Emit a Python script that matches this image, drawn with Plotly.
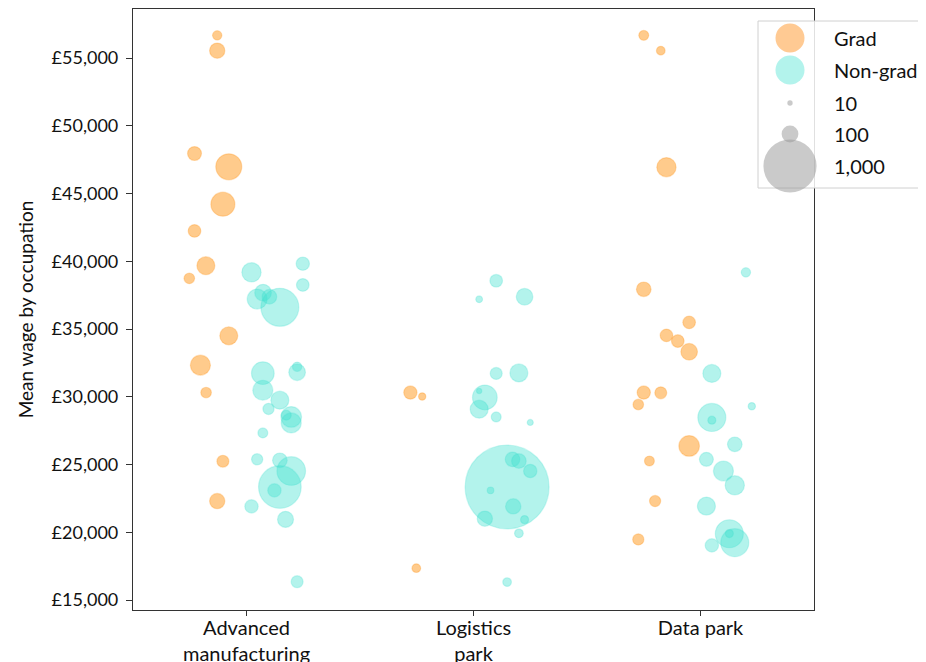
import plotly.graph_objects as go

# ---------------- data ----------------
categories = ["Advanced<br>manufacturing", "Logistics<br>park", "Data park"]

# Advanced manufacturing
am_grad_wage = [56670, 55540, 47950, 46970, 44210, 42240, 39670, 38740, 34500, 32330, 30310, 25240, 22300]
am_grad_n = [31, 83, 69, 240, 204, 57, 115, 40, 115, 142, 40, 51, 83]
am_grad_jit = [-0.129, -0.129, -0.229, -0.078, -0.104, -0.229, -0.179, -0.252, -0.078, -0.203, -0.178, -0.104, -0.129]

am_ng_wage = [39180, 39820, 38250, 37210, 37680, 37380, 36600, 31740, 31810, 32210, 30480, 29750, 29100,
              28510, 28070, 28640, 27330, 25380, 25310, 24520, 23340, 23090, 21910, 20950, 16350]
am_ng_n = [132, 63, 57, 142, 98, 76, 512, 182, 98, 31, 142, 115, 45,
           151, 142, 35, 35, 45, 76, 291, 645, 63, 63, 91, 51]
am_ng_jit = [0.022, 0.248, 0.248, 0.047, 0.073, 0.101, 0.147, 0.072, 0.223, 0.223, 0.072, 0.147, 0.097,
             0.197, 0.197, 0.175, 0.072, 0.047, 0.147, 0.197, 0.147, 0.123, 0.022, 0.172, 0.223]

# Logistics park
lp_grad_wage = [30310, 30020, 17350]
lp_grad_n = [63, 19, 27]
lp_grad_jit = [-0.278, -0.226, -0.252]

lp_ng_wage = [38560, 37190, 37380, 31720, 31760, 29950, 30430, 29080, 28510, 28100,
              23340, 25380, 25260, 24520, 23090, 21910, 21000, 20930, 19920, 16320]
lp_ng_n = [57, 16, 98, 51, 115, 216, 10, 115, 35, 13,
           2500, 76, 76, 63, 16, 83, 83, 23, 27, 27]
lp_ng_jit = [0.100, 0.025, 0.225, 0.100, 0.200, 0.050, 0.025, 0.025, 0.100, 0.250,
             0.148, 0.172, 0.200, 0.250, 0.075, 0.175, 0.050, 0.225, 0.200, 0.148]

# Data park
dp_grad_wage = [56670, 55540, 46940, 37930, 35490, 34530, 34110, 33320, 30310, 30290, 29430, 26370, 25260, 22300, 19470]
dp_grad_n = [35, 27, 132, 76, 57, 57, 57, 98, 63, 51, 40, 151, 35, 45, 45]
dp_grad_jit = [-0.250, -0.175, -0.150, -0.250, -0.050, -0.150, -0.100, -0.050, -0.250, -0.175, -0.274, -0.050, -0.225, -0.200, -0.274]

dp_ng_wage = [39180, 31720, 29300, 28470, 28270, 26490, 25380, 24520, 23460, 21930, 19890, 19230, 19900, 19030]
dp_ng_n = [31, 115, 19, 278, 23, 76, 69, 142, 132, 115, 278, 278, 23, 63]
dp_ng_jit = [0.200, 0.050, 0.226, 0.050, 0.050, 0.151, 0.026, 0.101, 0.151, 0.026, 0.127, 0.151, 0.127, 0.050]

y_ticks = [15000, 20000, 25000, 30000, 35000, 40000, 45000, 50000, 55000]
legend_sizes = [10, 100, 1000]
legend_size_labels = ["10", "100", "1,000"]
series_names = ["Grad", "Non-grad"]

# ---------------- styling ----------------
FONT = "Lato, 'Open Sans', sans-serif"
GRAD_FILL = "rgba(255,140,0,0.45)"
GRAD_LINE = "rgba(255,140,0,0.25)"
NG_FILL = "rgba(64,224,208,0.40)"
NG_LINE = "rgba(64,224,208,0.25)"
GREY_FILL = "rgba(150,150,150,0.5)"

PX_PER_SQRT = 1.68           # diameter in px = PX_PER_SQRT * sqrt(n)
SIZEREF = 2.0 / PX_PER_SQRT ** 2

OFF = 8                      # browser body margin
W, H = 926 - OFF, 662 - OFF
ML, MT = 133 - OFF, 9 - OFF
PR, PB = 814 - OFF, 610 - OFF   # plot right / bottom in figure px
MR, MB = W - PR, H - PB
PW, PH = W - ML - MR, H - MT - MB

fig = go.Figure()

groups = [
    (0, am_grad_wage, am_grad_n, am_grad_jit, am_ng_wage, am_ng_n, am_ng_jit),
    (1, lp_grad_wage, lp_grad_n, lp_grad_jit, lp_ng_wage, lp_ng_n, lp_ng_jit),
    (2, dp_grad_wage, dp_grad_n, dp_grad_jit, dp_ng_wage, dp_ng_n, dp_ng_jit),
]

for idx, gw, gn, gj, nw, nn, nj in groups:
    fig.add_trace(go.Scatter(
        x=[idx + j for j in gj], y=gw, mode="markers", showlegend=False, name="Grad",
        marker=dict(size=gn, sizemode="area", sizeref=SIZEREF, sizemin=0, opacity=1,
                    color=GRAD_FILL, line=dict(color=GRAD_LINE, width=1.2)),
        cliponaxis=False, hoverinfo="skip"))
    fig.add_trace(go.Scatter(
        x=[idx + j for j in nj], y=nw, mode="markers", showlegend=False, name="Non-grad",
        marker=dict(size=nn, sizemode="area", sizeref=SIZEREF, sizemin=0, opacity=1,
                    color=NG_FILL, line=dict(color=NG_LINE, width=1.2)),
        cliponaxis=False, hoverinfo="skip"))

# ---------------- custom legend (paper coordinates, window px in) ----------------
def px_to_paper_x(px):
    return (px - OFF - ML) / PW

def px_to_paper_y(py):
    return (PB - (py - OFF)) / PH

shapes = []
annotations = []
shapes.append(dict(type="rect", xref="paper", yref="paper",
                   x0=px_to_paper_x(758), x1=px_to_paper_x(960),
                   y0=px_to_paper_y(188), y1=px_to_paper_y(21),
                   fillcolor="rgba(255,255,255,0.85)", line=dict(color="#d0d0d0", width=1),
                   layer="above"))

mx = px_to_paper_x(790)
tx = px_to_paper_x(832)
rows_y = [38, 70, 103, 134, 166]

entries = [(series_names[0], 14.5, "rgba(255,150,40,0.50)"),
           (series_names[1], 14.5, "rgba(64,224,208,0.40)")]
for lab, n in zip(legend_size_labels, legend_sizes):
    entries.append((lab, PX_PER_SQRT * n ** 0.5 / 2, GREY_FILL))

for (lab, r, col), ry in zip(entries, rows_y):
    yy = px_to_paper_y(ry)
    shapes.append(dict(type="circle", xref="paper", yref="paper",
                       xsizemode="pixel", ysizemode="pixel",
                       xanchor=mx, yanchor=yy, x0=-r, x1=r, y0=-r, y1=r,
                       fillcolor=col, line=dict(width=0), layer="above"))
    annotations.append(dict(xref="paper", yref="paper", x=tx, y=yy, text=lab,
                            showarrow=False, xanchor="left", yanchor="middle",
                            font=dict(family=FONT, size=20, color="#111")))

fig.update_layout(
    width=W, height=H,
    margin=dict(l=ML, r=MR, t=MT, b=MB, autoexpand=False),
    paper_bgcolor="white", plot_bgcolor="white",
    font=dict(family=FONT, size=18, color="#111"),
    showlegend=False,
    shapes=shapes, annotations=annotations,
    xaxis=dict(range=[-0.5, 2.5], tickmode="array", tickvals=[0, 1, 2], ticktext=categories,
               showgrid=False, zeroline=False, showline=True, linecolor="#333", linewidth=1.2,
               mirror=True, ticks="outside", ticklen=5, tickcolor="#333",
               ticklabelstandoff=-5,
               tickfont=dict(family=FONT, size=20, color="#111")),
    yaxis=dict(range=[14262, 58616], tickmode="array", tickvals=y_ticks,
               ticktext=["£{:,}".format(v) for v in y_ticks],
               showgrid=False, zeroline=False, showline=True, linecolor="#333", linewidth=1.2,
               mirror=True, ticks="outside", ticklen=6, tickcolor="#333",
               ticklabelstandoff=4,
               tickfont=dict(family=FONT, size=18, color="#111"),
               title=dict(text="Mean wage by occupation", standoff=12,
                          font=dict(family=FONT, size=19, color="#111"))),
)

fig.write_html("out.html")
